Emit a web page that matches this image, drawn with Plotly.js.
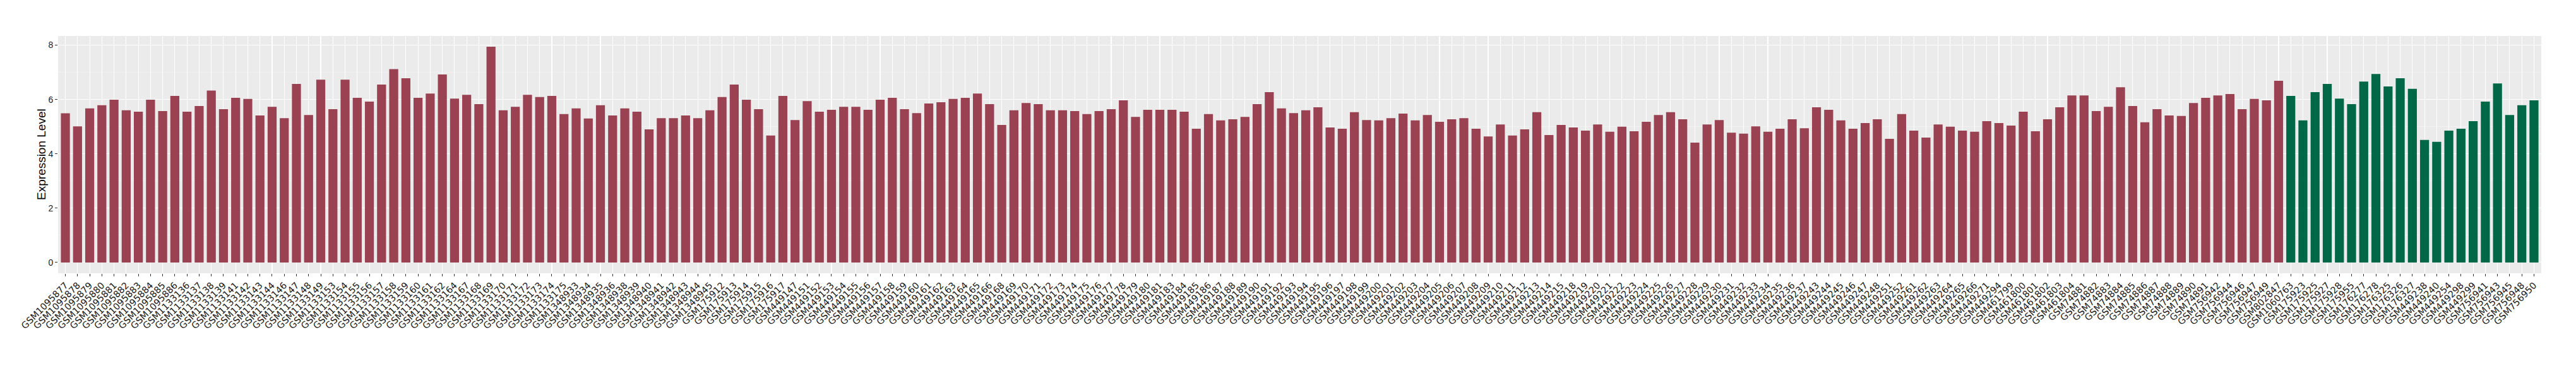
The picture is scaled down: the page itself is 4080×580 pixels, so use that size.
<!DOCTYPE html>
<html>
<head>
<meta charset="utf-8">
<script src="https://cdn.plot.ly/plotly-3.0.1.min.js"></script>
<style>html,body{margin:0;padding:0;background:#fff;}#chart{width:4080px;height:580px;}</style>
</head>
<body>
<div id="chart"></div>
<script>
const redSamples = [
"GSM1095877","GSM1095878","GSM1095879","GSM1095880","GSM1095881","GSM1095882","GSM1095883","GSM1095884","GSM1095885","GSM1095886",
"GSM1133136","GSM1133137","GSM1133138","GSM1133139","GSM1133141","GSM1133142","GSM1133143","GSM1133144","GSM1133146","GSM1133147",
"GSM1133148","GSM1133149","GSM1133153","GSM1133154","GSM1133155","GSM1133156","GSM1133157","GSM1133158","GSM1133159","GSM1133160",
"GSM1133161","GSM1133162","GSM1133164","GSM1133167","GSM1133168","GSM1133169","GSM1133170","GSM1133171","GSM1133172","GSM1133173",
"GSM1133174","GSM1133175",
"GSM1348933","GSM1348934","GSM1348935","GSM1348936","GSM1348938","GSM1348939","GSM1348940","GSM1348941","GSM1348942","GSM1348943",
"GSM1348944","GSM1348945",
"GSM175912","GSM175913","GSM175914","GSM175915","GSM175916","GSM175917",
"GSM449147","GSM449151","GSM449152","GSM449153","GSM449154","GSM449155","GSM449156","GSM449157","GSM449158","GSM449159",
"GSM449160","GSM449161","GSM449162","GSM449163","GSM449164","GSM449165","GSM449166","GSM449168","GSM449169","GSM449170",
"GSM449171","GSM449172","GSM449173","GSM449174","GSM449175","GSM449176","GSM449177","GSM449178","GSM449179","GSM449180",
"GSM449181","GSM449183","GSM449184","GSM449185","GSM449186","GSM449187","GSM449188","GSM449189","GSM449190","GSM449191",
"GSM449192","GSM449193","GSM449194","GSM449195","GSM449196","GSM449197","GSM449198","GSM449199","GSM449200","GSM449201",
"GSM449202","GSM449203","GSM449204","GSM449205","GSM449206","GSM449207","GSM449208","GSM449209","GSM449210","GSM449211",
"GSM449212","GSM449213","GSM449214","GSM449215","GSM449218","GSM449219","GSM449220","GSM449221","GSM449222","GSM449223",
"GSM449224","GSM449225","GSM449226","GSM449227","GSM449228","GSM449229","GSM449230","GSM449231","GSM449232","GSM449233",
"GSM449234","GSM449235","GSM449236","GSM449237","GSM449243","GSM449244","GSM449245","GSM449246","GSM449247","GSM449248",
"GSM449251","GSM449252","GSM449261","GSM449262","GSM449263","GSM449264","GSM449265","GSM449266","GSM449271","GSM449294",
"GSM461799","GSM461800","GSM461801","GSM461802","GSM461803","GSM461804",
"GSM74881","GSM74882","GSM74883","GSM74884","GSM74885","GSM74886","GSM74887","GSM74888","GSM74889","GSM74890","GSM74891",
"GSM756942","GSM756944","GSM756946","GSM756947","GSM756949",
"GSM802847"
];
const redValues = [
5.49,5.01,5.67,5.79,5.99,5.60,5.55,5.99,5.57,6.13,
5.55,5.76,6.33,5.64,6.06,6.02,5.41,5.73,5.31,6.57,
5.43,6.73,5.64,6.73,6.06,5.92,6.55,7.12,6.78,6.06,
6.22,6.92,6.03,6.17,5.83,7.94,5.60,5.73,6.17,6.09,
6.13,5.46,
5.67,5.30,5.79,5.41,5.67,5.55,4.90,5.31,5.31,5.41,
5.31,5.60,
6.09,6.55,5.99,5.64,4.67,6.13,
5.24,5.94,5.55,5.62,5.73,5.73,5.62,5.99,6.06,5.64,
5.50,5.85,5.90,6.02,6.06,6.22,5.83,5.06,5.60,5.87,
5.83,5.60,5.60,5.57,5.46,5.57,5.64,5.97,5.36,5.62,
5.62,5.62,5.55,4.92,5.46,5.23,5.27,5.36,5.83,6.27,
5.67,5.50,5.60,5.71,4.97,4.92,5.53,5.24,5.23,5.31,
5.48,5.23,5.43,5.18,5.27,5.31,4.92,4.64,5.08,4.67,
4.90,5.53,4.69,5.06,4.97,4.85,5.08,4.81,5.00,4.83,
5.18,5.43,5.53,5.27,4.41,5.08,5.24,4.78,4.74,5.01,
4.81,4.92,5.27,4.94,5.71,5.62,5.23,4.92,5.13,5.27,
4.55,5.46,4.85,4.60,5.08,5.00,4.85,4.81,5.20,5.13,
5.04,5.55,4.83,5.27,5.71,6.15,
6.15,5.57,5.73,6.45,5.76,5.16,5.64,5.41,5.39,5.87,6.06,
6.15,6.20,5.64,6.02,5.97,
6.69
];
const greenSamples = [
"GSM1060763","GSM175923","GSM175925","GSM175927","GSM175928","GSM175955","GSM176277","GSM176278",
"GSM176325","GSM176326","GSM176327","GSM449238","GSM449240","GSM449254","GSM449298","GSM449299",
"GSM756941","GSM756943","GSM756945","GSM756948","GSM756950"
];
const greenValues = [
6.13,5.23,6.27,6.57,6.03,5.83,6.66,6.94,
6.48,6.78,6.39,4.51,4.44,4.85,4.92,5.20,
5.92,6.59,5.43,5.79,5.97
];
const yTicks = [0, 2, 4, 6, 8];
const yTitle = "Expression Level";

const allSamples = redSamples.concat(greenSamples);
const allValues = redValues.concat(greenValues);
const yMax = Math.max.apply(null, allValues);
const pad = yMax * 0.05;

const traces = [
  {type:'bar', x: redSamples, y: redValues, width: 0.74,
   marker:{color:'#9A4252', line:{width:0}}, showlegend:false, hoverinfo:'skip'},
  {type:'bar', x: greenSamples, y: greenValues, width: 0.74,
   marker:{color:'#006846', line:{width:0}}, showlegend:false, hoverinfo:'skip'}
];

const layout = {
  width: 4080, height: 580,
  margin: {l: 92, r: 55, t: 57, b: 147, pad: 0},
  paper_bgcolor: '#ffffff',
  plot_bgcolor: '#EBEBEB',
  barmode: 'overlay',
  showlegend: false,
  xaxis: {
    type: 'category',
    categoryorder: 'array',
    categoryarray: allSamples,
    tickmode: 'array',
    tickvals: allSamples,
    ticktext: allSamples,
    range: [-0.6, allSamples.length - 0.4],
    tickangle: -45,
    tickfont: {family: 'DejaVu Sans', size: 14.5, color: '#1a1a1a'},
    ticks: 'outside', ticklen: 4, tickwidth: 1, tickcolor: '#333333',
    showgrid: true, gridcolor: '#FFFFFF', gridwidth: 1.1,
    zeroline: false, showline: false, automargin: false, fixedrange: true
  },
  yaxis: {
    range: [-pad, yMax + pad],
    tickmode: 'array',
    tickvals: yTicks,
    ticktext: yTicks.map(String),
    tickfont: {family: 'Liberation Sans', size: 14, color: '#1a1a1a'},
    ticks: 'outside', ticklen: 4, tickwidth: 1, tickcolor: '#333333',
    showgrid: true, gridcolor: '#FFFFFF', gridwidth: 1.1,
    minor: {dtick: 1, tick0: 0, showgrid: true, gridcolor: '#F6F6F6', gridwidth: 0.6, ticks: ''},
    zeroline: false, showline: false, automargin: false, fixedrange: true
  },
  annotations: [{
    text: yTitle, xref: 'paper', yref: 'paper', x: 0, y: 0.5,
    xshift: -27, xanchor: 'center', yanchor: 'middle', textangle: -90,
    showarrow: false, font: {family: 'Liberation Sans', size: 19, color: '#000000'}
  }]
};

Plotly.newPlot('chart', traces, layout, {displayModeBar: false, staticPlot: true});
</script>
</body>
</html>
